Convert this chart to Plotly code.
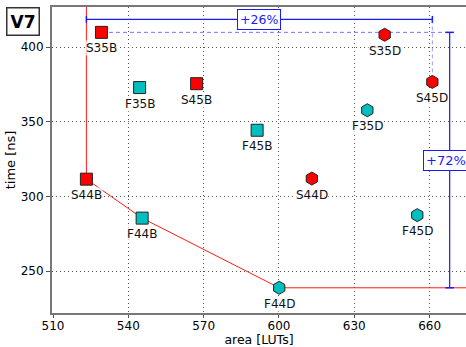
import plotly.graph_objects as go

# Data
sq_names = ["S35B", "F35B", "S45B", "S44B", "F44B", "F45B"]
sq_area = [529.3, 544.5, 567.2, 523.3, 545.5, 591.3]
sq_time = [410.0, 373.0, 375.6, 311.6, 285.5, 344.4]
sq_colors = ["red", "c", "red", "red", "c", "c"]

hx_names = ["S35D", "S45D", "F35D", "S44D", "F45D", "F44D"]
hx_area = [642.1, 661.1, 635.2, 613.1, 655.1, 600.1]
hx_time = [408.4, 376.8, 357.8, 312.0, 287.5, 238.8]
hx_colors = ["red", "red", "c", "red", "c", "c"]

x_ticks = [510, 540, 570, 600, 630, 660]
y_ticks = [250, 300, 350, 400]

X_RANGE = [509.6, 674.5]
Y_RANGE = [221.9, 427.0]

cmap = {"red": "#ff0000", "c": "#00bfbf"}

fig = go.Figure()

# Pareto front (red)
pareto_names = ["S44B", "F44B", "F44D"]
allx = dict(zip(sq_names + hx_names, sq_area + hx_area))
ally = dict(zip(sq_names + hx_names, sq_time + hx_time))
px = [allx["S44B"]] + [allx[n] for n in pareto_names] + [X_RANGE[1] + 5]
py = [Y_RANGE[1] + 5] + [ally[n] for n in pareto_names] + [ally["F44D"]]
fig.add_trace(go.Scatter(x=px, y=py, mode="lines",
                         line=dict(color="rgba(255,0,0,0.9)", width=1),
                         hoverinfo="skip", cliponaxis=True))

# Blue annotation lines
blue = "#1a1aff"
top_y = 418.7
x_left = allx["S44B"]
x_right = allx["S45D"]
fig.add_trace(go.Scatter(x=[x_left, x_right], y=[top_y, top_y], mode="lines+markers",
                         line=dict(color=blue, width=1.2),
                         marker=dict(symbol="line-ns", size=5, line=dict(color=blue, width=1.5)),
                         hoverinfo="skip"))
# dashed helper lines
vline_x = 668.0
y_top2 = ally["S35B"]
fig.add_trace(go.Scatter(x=[allx["S35B"] + 3, vline_x], y=[y_top2, y_top2], mode="lines",
                         line=dict(color="rgba(60,60,255,0.7)", width=1, dash="4px,3px"),
                         hoverinfo="skip"))
fig.add_trace(go.Scatter(x=[x_right, x_right], y=[top_y, ally["S45D"] + 3], mode="lines",
                         line=dict(color="rgba(60,60,255,0.5)", width=1, dash="4px,3px"),
                         hoverinfo="skip"))
# vertical bar
fig.add_trace(go.Scatter(x=[vline_x, vline_x], y=[y_top2, ally["F44D"]], mode="lines+markers",
                         line=dict(color=blue, width=1.2),
                         marker=dict(symbol="line-ew", size=6, line=dict(color=blue, width=1.5)),
                         hoverinfo="skip"))

# Markers
fig.add_trace(go.Scatter(x=sq_area, y=sq_time, mode="markers",
                         marker=dict(symbol="square", size=12, color=[cmap[c] for c in sq_colors],
                                     line=dict(color="#222", width=1)),
                         hoverinfo="skip"))
fig.add_trace(go.Scatter(x=hx_area, y=hx_time, mode="markers",
                         marker=dict(symbol="hexagon", size=13, color=[cmap[c] for c in hx_colors],
                                     line=dict(color="#222", width=1)),
                         hoverinfo="skip"))

font = "DejaVu Sans"
anns = []
for n, x, y in zip(sq_names + hx_names, sq_area + hx_area, sq_time + hx_time):
    anns.append(dict(x=x, y=y, text=n, showarrow=False, yshift=-16,
                     font=dict(family=font, size=12, color="#111"),
                     bgcolor="rgba(255,255,255,0.75)", borderpad=0))

anns.append(dict(x=(x_left + x_right) / 2, y=top_y, text="+26%", showarrow=False,
                 font=dict(family=font, size=12.5, color=blue),
                 bgcolor="white", bordercolor=blue, borderwidth=1, borderpad=2))
anns.append(dict(x=vline_x, y=(y_top2 + ally["F44D"]) / 2, text="+72%", showarrow=False,
                 xshift=-4,
                 font=dict(family=font, size=13, color=blue),
                 bgcolor="white", bordercolor=blue, borderwidth=1, borderpad=2))
anns.append(dict(xref="paper", yref="paper", x=-0.112, y=1.0, xanchor="left", yanchor="top",
                 text="<b>V7</b>", showarrow=False,
                 font=dict(family=font, size=17, color="black"),
                 bgcolor="white", bordercolor="#333", borderwidth=1.5, borderpad=3))

fig.update_layout(
    width=466, height=347,
    margin=dict(l=52, r=0, t=7, b=34, autoexpand=False),
    plot_bgcolor="white", paper_bgcolor="white",
    showlegend=False,
    annotations=anns,
    font=dict(family=font, size=12, color="black"),
    xaxis=dict(range=X_RANGE, tickvals=x_ticks, ticks="outside", ticklen=3, tickcolor="#555",
               ticklabelstandoff=-2,
               showgrid=True, gridcolor="#555", griddash="1px,3px", gridwidth=1,
               showline=True, linecolor="#777", linewidth=2, mirror=True, automargin=False,
               zeroline=False, title=dict(text="area [LUTs]", font=dict(size=12.5), standoff=0),
               tickfont=dict(size=12)),
    yaxis=dict(range=Y_RANGE, tickvals=y_ticks, ticks="outside", ticklen=4, tickcolor="#555",
               showgrid=True, gridcolor="#555", griddash="1px,3px", gridwidth=1,
               showline=True, linecolor="#777", linewidth=2, mirror=False, automargin=False,
               zeroline=False, title=dict(text="time [ns]", font=dict(size=13), standoff=2),
               tickfont=dict(size=12)),
)

fig.write_html("out.html", config={"displayModeBar": False},
               post_script="document.body.style.margin='0';document.body.style.overflow='hidden';")
